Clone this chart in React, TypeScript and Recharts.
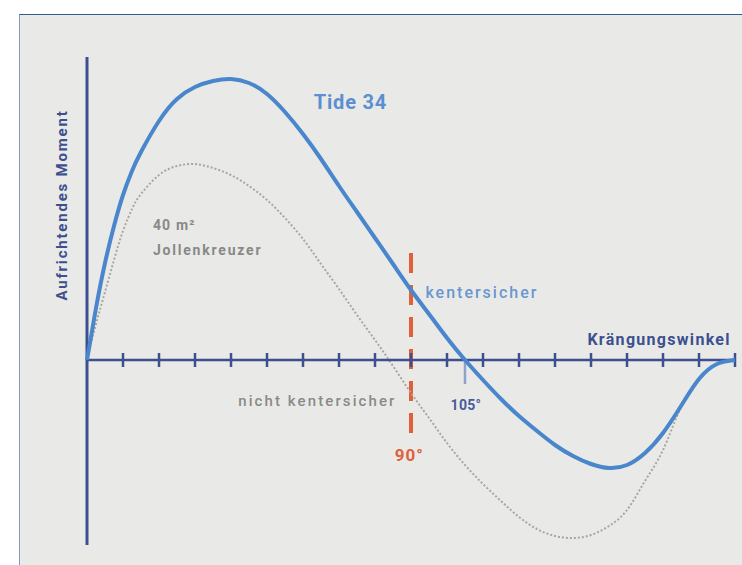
import React from 'react';
import { LineChart, Line, XAxis, YAxis, ReferenceLine, ReferenceDot } from 'recharts';

const angles = [0, 2.5, 5, 7.5, 10, 12.5, 15, 20, 25, 30, 35, 40, 45, 50, 55, 60, 65, 70, 75, 80, 85, 90, 95, 100, 105, 110, 115, 120, 125, 130, 135, 140, 145, 150, 155, 160, 165, 170, 175, 180];
const tide34 = [0, 52, 97, 134, 165, 189, 208, 239, 261, 273, 279, 281, 277, 266, 248, 226, 201, 174, 148, 122, 96, 70, 46, 22, 0, -20, -39, -56, -71, -85, -96, -104, -108, -105, -93, -73, -46, -19, -4, 0];
const jolle = [0, 36, 68, 100, 129, 151, 166, 185, 194, 196, 192, 185, 174, 160, 142, 121, 96, 71, 45, 20, -6, -33, -58, -83, -105, -124, -141, -157, -169, -176, -178, -175, -166, -150, -121, -90, -47, -19, -4, 0];
const tickAngles = [10, 20, 30, 40, 50, 60, 70, 80, 90, 100, 110, 120, 130, 140, 150, 160, 170, 180];

const data = angles.map((a, i) => ({ a, tide: tide34[i], jolle: jolle[i] }));

const FONT = 'Roboto, "DejaVu Sans", sans-serif';
const AXIS = '#3d4f8f';

const makeLabel = (text: string, color: string, size: number, weight: number, spacing = 0) =>
  (props: any) => {
    const vb = props.viewBox || {};
    return (
      <text x={vb.x || 0} y={vb.y || 0} fill={color} fontSize={size} fontWeight={weight}
        fontFamily={FONT} letterSpacing={spacing} dominantBaseline="central" textAnchor="start">
        {text}
      </text>
    );
  };

export default function App() {
  return (
    <div style={{ position: 'absolute', left: 0, top: 0, width: 742, height: 565, background: '#ffffff', overflow: 'hidden' }}>
      <div style={{ position: 'absolute', left: 19, top: 14, width: 723, height: 551, background: '#e9eae8', borderTop: '1.5px solid #2d5f8a', borderLeft: '1.5px solid #7d9cbf', boxSizing: 'border-box' }} />
      <div style={{ position: 'absolute', left: 0, top: 0 }}>
        <LineChart width={742} height={565} data={data} margin={{ top: 57, right: 7, bottom: 20, left: 87 }}>
          <XAxis type="number" dataKey="a" domain={[0, 180]} hide />
          <YAxis type="number" domain={[-185, 303]} hide />
          <ReferenceLine stroke="#e0603a" strokeWidth={4} strokeDasharray="20 12"
            segment={[{ x: 90, y: 107 }, { x: 90, y: -73 }]} />
          <Line type="natural" dataKey="jolle" stroke="#a9a59f" strokeWidth={2} strokeDasharray="2 2" dot={false} isAnimationActive={false} />
          <ReferenceLine y={0} stroke={AXIS} strokeWidth={2.5} />
          <ReferenceLine x={0} stroke={AXIS} strokeWidth={3} />
          {tickAngles.map((t) => (
            <ReferenceLine key={t} stroke={AXIS} strokeWidth={2.5} segment={[{ x: t, y: -7 }, { x: t, y: 7 }]} />
          ))}
          <ReferenceLine stroke="#8ea2cc" strokeWidth={2.5} segment={[{ x: 105, y: 0 }, { x: 105, y: -24 }]} />
          <Line type="natural" dataKey="tide" stroke="#4a86cc" strokeWidth={4} dot={false} isAnimationActive={false} />
          <ReferenceDot x={63} y={258} r={0} fill="none" stroke="none" label={makeLabel('Tide 34', '#5a8fd0', 20, 700, 0.8)} />
          <ReferenceDot x={94} y={68} r={0} fill="none" stroke="none" label={makeLabel('kentersicher', '#6a96d0', 16, 500, 2)} />
          <ReferenceDot x={139} y={21} r={0} fill="none" stroke="none" label={makeLabel('Krängungswinkel', AXIS, 16, 700, 1.3)} />
          <ReferenceDot x={101} y={-45} r={0} fill="none" stroke="none" label={makeLabel('105°', '#4a5a9a', 14, 700, 0.3)} />
          <ReferenceDot x={42} y={-41} r={0} fill="none" stroke="none" label={makeLabel('nicht kentersicher', '#8a8a88', 15, 500, 2.1)} />
          <ReferenceDot x={85.5} y={-95} r={0} fill="none" stroke="none" label={makeLabel('90°', '#e0603a', 17, 700, 1)} />
          <ReferenceDot x={18.3} y={135} r={0} fill="none" stroke="none" label={makeLabel('40 m²', '#888886', 14, 700, 1.2)} />
          <ReferenceDot x={18.3} y={110} r={0} fill="none" stroke="none" label={makeLabel('Jollenkreuzer', '#888886', 14, 700, 1.8)} />
        </LineChart>
      </div>
      <div style={{ position: 'absolute', left: 62, top: 205, width: 0, height: 0 }}>
        <div style={{ position: 'absolute', left: 0, top: 0, transform: 'translate(-50%, -50%) rotate(-90deg)', whiteSpace: 'nowrap', fontFamily: FONT, fontSize: 15, fontWeight: 700, color: AXIS, letterSpacing: 1.8 }}>
          Aufrichtendes Moment
        </div>
      </div>
    </div>
  );
}
